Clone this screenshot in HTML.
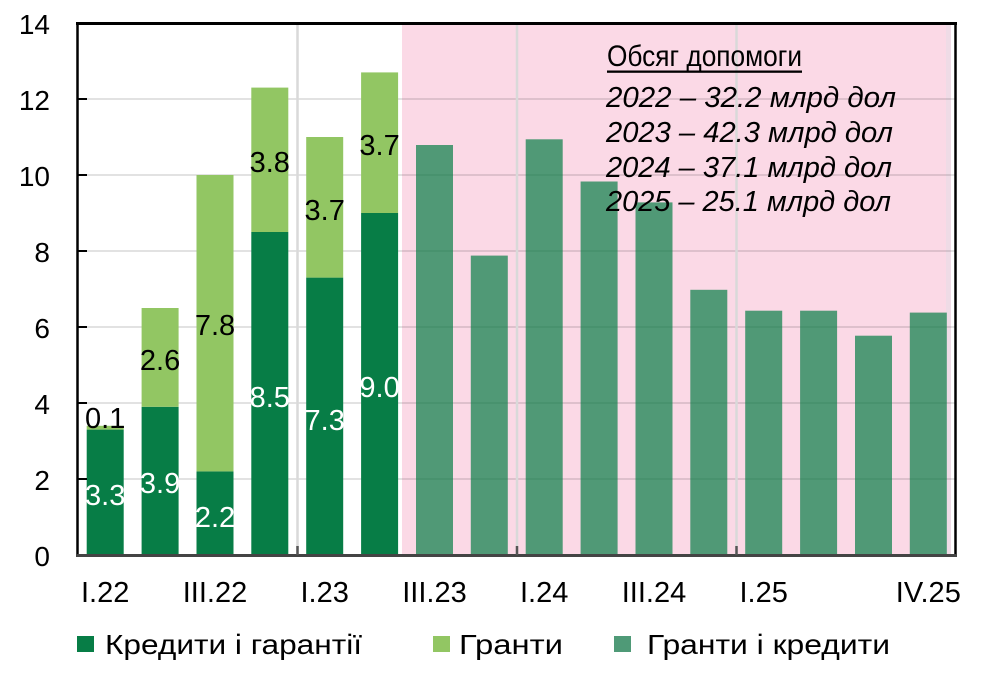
<!DOCTYPE html>
<html>
<head>
<meta charset="utf-8">
<style>
  html,body{margin:0;padding:0;background:#ffffff;}
  svg{display:block;}
  text{font-family:"Liberation Sans","Noto Sans CJK SC",Arial,sans-serif;}
</style>
</head>
<body>
<svg width="1002" height="677" viewBox="0 0 1002 677" xmlns="http://www.w3.org/2000/svg">
  <rect x="0" y="0" width="1002" height="677" fill="#ffffff"/>

  <!-- pink shaded region -->
  <rect x="402" y="25" width="549" height="529" fill="#fbd9e6"/>
  <rect x="946" y="25" width="5" height="529" fill="#efdbe6"/>

  <!-- horizontal gridlines -->
  <g stroke="rgba(0,0,0,0.15)" stroke-width="1.5">
    <line x1="79" y1="479" x2="955" y2="479"/>
    <line x1="79" y1="403" x2="955" y2="403"/>
    <line x1="79" y1="327" x2="955" y2="327"/>
    <line x1="79" y1="251" x2="955" y2="251"/>
    <line x1="79" y1="175" x2="955" y2="175"/>
    <line x1="79" y1="99" x2="955" y2="99"/>
  </g>
  <!-- vertical gridlines -->
  <g stroke="#d9d9d9" stroke-width="2.5">
    <line x1="297.5" y1="25" x2="297.5" y2="554"/>
    <line x1="517" y1="25" x2="517" y2="554"/>
    <line x1="736.5" y1="25" x2="736.5" y2="554"/>
  </g>

  <!-- stacked bars 2022-2023 -->
  <g>
    <rect x="86.7" y="429.6" width="37" height="125.4" fill="#077d46"/>
    <rect x="86.7" y="425.8" width="37" height="3.8" fill="#92c663"/>

    <rect x="141.6" y="406.8" width="37" height="148.2" fill="#077d46"/>
    <rect x="141.6" y="308.0" width="37" height="98.8" fill="#92c663"/>

    <rect x="196.5" y="471.4" width="37" height="83.6" fill="#077d46"/>
    <rect x="196.5" y="175.0" width="37" height="296.4" fill="#92c663"/>

    <rect x="251.3" y="232.0" width="37" height="323" fill="#077d46"/>
    <rect x="251.3" y="87.6" width="37" height="144.4" fill="#92c663"/>

    <rect x="306.2" y="277.6" width="37" height="277.4" fill="#077d46"/>
    <rect x="306.2" y="137.0" width="37" height="140.6" fill="#92c663"/>

    <rect x="361.1" y="213.0" width="37" height="342" fill="#077d46"/>
    <rect x="361.1" y="72.4" width="37" height="140.6" fill="#92c663"/>
  </g>

  <!-- grants and credits bars (semi-transparent) -->
  <g fill="#077d46" fill-opacity="0.7">
    <rect x="416.0" y="145.0" width="37" height="410"/>
    <rect x="470.8" y="255.6" width="37" height="299.4"/>
    <rect x="525.7" y="139.3" width="37" height="415.7"/>
    <rect x="580.6" y="181.5" width="37" height="373.5"/>
    <rect x="635.5" y="202.4" width="37" height="352.6"/>
    <rect x="690.3" y="289.8" width="37" height="265.2"/>
    <rect x="745.2" y="310.7" width="37" height="244.3"/>
    <rect x="800.1" y="310.7" width="37" height="244.3"/>
    <rect x="855.0" y="335.7" width="37" height="219.3"/>
    <rect x="909.8" y="312.6" width="37" height="242.4"/>
  </g>

  <!-- axes / frame -->
  <line x1="76" y1="23.5" x2="957" y2="23.5" stroke="#000" stroke-width="3"/>
  <line x1="77.5" y1="22" x2="77.5" y2="557" stroke="#000" stroke-width="2.5"/>
  <line x1="955.5" y1="22" x2="955.5" y2="557" stroke="#000" stroke-width="2.5"/>
  <line x1="77" y1="555.5" x2="957" y2="555.5" stroke="#444" stroke-width="3"/>

  <!-- y ticks (inside) -->
  <g stroke="#000" stroke-width="2">
    <line x1="78" y1="479" x2="87" y2="479"/>
    <line x1="78" y1="403" x2="87" y2="403"/>
    <line x1="78" y1="327" x2="87" y2="327"/>
    <line x1="78" y1="251" x2="87" y2="251"/>
    <line x1="78" y1="175" x2="87" y2="175"/>
    <line x1="78" y1="99" x2="87" y2="99"/>
  </g>
  <!-- x ticks -->
  <g stroke="#555" stroke-width="2.5">
    <line x1="297.5" y1="546" x2="297.5" y2="555"/>
    <line x1="517" y1="546" x2="517" y2="555"/>
    <line x1="736.5" y1="546" x2="736.5" y2="555"/>
  </g>

  <!-- y labels -->
  <g font-size="28" fill="#000" text-anchor="end">
    <text x="50" y="566">0</text>
    <text x="50" y="490">2</text>
    <text x="50" y="414">4</text>
    <text x="50" y="338">6</text>
    <text x="50" y="262">8</text>
    <text x="50" y="186">10</text>
    <text x="50" y="110">12</text>
    <text x="50" y="34">14</text>
  </g>

  <!-- x labels -->
  <g font-size="29" fill="#000" text-anchor="middle">
    <text x="105.2" y="602">I.22</text>
    <text x="215.0" y="602">III.22</text>
    <text x="324.7" y="602">I.23</text>
    <text x="434.5" y="602">III.23</text>
    <text x="544.2" y="602">I.24</text>
    <text x="654.0" y="602">III.24</text>
    <text x="763.7" y="602">I.25</text>
    <text x="928.3" y="602">IV.25</text>
  </g>

  <!-- data labels -->
  <g font-size="29" text-anchor="middle">
    <text x="105.2" y="428" fill="#000">0.1</text>
    <text x="105.2" y="505" fill="#fff">3.3</text>
    <text x="160.1" y="370" fill="#000">2.6</text>
    <text x="160.1" y="493" fill="#fff">3.9</text>
    <text x="215.0" y="335" fill="#000">7.8</text>
    <text x="215.0" y="527" fill="#fff">2.2</text>
    <text x="269.8" y="172" fill="#000">3.8</text>
    <text x="269.8" y="407" fill="#fff">8.5</text>
    <text x="324.7" y="220" fill="#000">3.7</text>
    <text x="324.7" y="430" fill="#fff">7.3</text>
    <text x="379.6" y="155" fill="#000">3.7</text>
    <text x="379.6" y="397" fill="#fff">9.0</text>
  </g>

  <!-- annotation -->
  <text transform="translate(607,66) scale(1,1.14)" x="0" y="0" font-size="26" fill="#000" textLength="195" lengthAdjust="spacingAndGlyphs">Обсяг допомоги</text>
  <rect x="607" y="70.5" width="195" height="2.3" fill="#000"/>
  <g font-size="29" font-style="italic" fill="#000">
    <text x="606" y="107" textLength="290" lengthAdjust="spacingAndGlyphs">2022 – 32.2 млрд дол</text>
    <text x="606" y="142" textLength="287" lengthAdjust="spacingAndGlyphs">2023 – 42.3 млрд дол</text>
    <text x="606" y="177" textLength="286" lengthAdjust="spacingAndGlyphs">2024 – 37.1 млрд дол</text>
    <text x="606" y="211" textLength="285" lengthAdjust="spacingAndGlyphs">2025 – 25.1 млрд дол</text>
  </g>

  <!-- legend -->
  <rect x="77" y="636" width="17" height="16" fill="#077d46"/>
  <text x="105" y="654" font-size="28" fill="#000" textLength="257" lengthAdjust="spacingAndGlyphs">Кредити і гарантії</text>
  <rect x="433" y="636" width="17" height="16" fill="#92c663"/>
  <text x="459" y="654" font-size="28" fill="#000" textLength="104" lengthAdjust="spacingAndGlyphs">Гранти</text>
  <rect x="614" y="636" width="17" height="16" fill="#4f9a77"/>
  <text x="647" y="654" font-size="28" fill="#000" textLength="243" lengthAdjust="spacingAndGlyphs">Гранти і кредити</text>
</svg>
</body>
</html>
